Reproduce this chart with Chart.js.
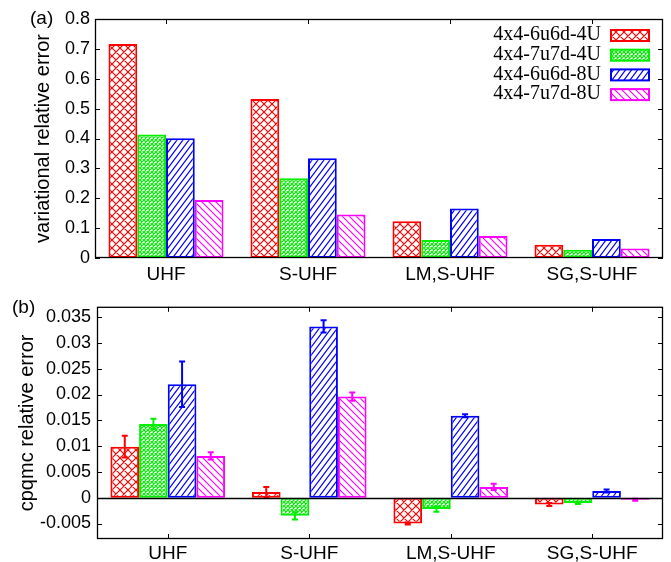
<!DOCTYPE html>
<html>
<head>
<meta charset="utf-8">
<script src="https://cdn.jsdelivr.net/npm/chart.js@4.4.1/dist/chart.umd.min.js"></script>
<style>
  body { margin: 0; background: #fff; width: 671px; height: 562px; position: relative; overflow: hidden; }
  canvas { position: absolute; left: 0; }
  #chartA { top: 0; }
  #chartB { top: 290px; }
</style>
</head>
<body>
<canvas id="chartA" width="671" height="290"></canvas>
<canvas id="chartB" width="671" height="272"></canvas>
<script>
// categories and series
const categories = ["UHF", "S-UHF", "LM,S-UHF", "SG,S-UHF"];
const seriesNames = ["4x4-6u6d-4U", "4x4-7u7d-4U", "4x4-6u6d-8U", "4x4-7u7d-8U"];
const seriesColors = ["#ff0000", "#00f000", "#0000ff", "#ff00ff"];

// (a) variational relative error
const var6u6d4U = [0.716, 0.532, 0.123, 0.044];
const var7u7d4U = [0.413, 0.267, 0.060, 0.028];
const var6u6d8U = [0.401, 0.334, 0.166, 0.064];
const var7u7d8U = [0.194, 0.146, 0.074, 0.032];

// (b) cpqmc relative error and its error bars
const cpq6u6d4U = [0.0099, 0.0011, -0.0050, -0.0013];
const cpq7u7d4U = [0.0143, -0.0035, -0.0022, -0.0010];
const cpq6u6d8U = [0.0220, 0.0332, 0.0159, 0.0013];
const cpq7u7d8U = [0.0081, 0.0196, 0.0021, -0.0004];
const err6u6d4U = [0.0021, 0.0010, 0.0002, 0.0003];
const err7u7d4U = [0.0010, 0.0007, 0.0005, 0.0002];
const err6u6d8U = [0.0044, 0.0012, 0.0003, 0.0003];
const err7u7d8U = [0.0007, 0.0008, 0.0006, 0.0002];

// tick labels
const ticksA = [0, 0.1, 0.2, 0.3, 0.4, 0.5, 0.6, 0.7, 0.8];
const ticksB = [-0.005, 0, 0.005, 0.01, 0.015, 0.02, 0.025, 0.03, 0.035];

Chart.defaults.font.family = "'Liberation Sans', Arial, sans-serif";
Chart.defaults.color = "#000";

// hatch fills like gnuplot patterns
function hatch(color, kind) {
  const sizes = { cross: [8, 8], fine: [4, 4], slash: [6, 8], back: [7, 7] };
  const [w, h] = sizes[kind];
  const c = document.createElement("canvas");
  c.width = w; c.height = h;
  const g = c.getContext("2d");
  g.fillStyle = "#fff";
  g.fillRect(0, 0, w, h);
  g.strokeStyle = color;
  g.lineWidth = 1.2;
  g.beginPath();
  if (kind === "cross" || kind === "fine" || kind === "slash") {
    g.moveTo(-w, 2 * h); g.lineTo(2 * w, -h);
    g.moveTo(-w, h); g.lineTo(w, -h);
    g.moveTo(0, 2 * h); g.lineTo(2 * w, 0);
  }
  if (kind === "cross" || kind === "fine" || kind === "back") {
    g.moveTo(-w, -h); g.lineTo(2 * w, 2 * h);
    g.moveTo(-w, 0); g.lineTo(w, 2 * h);
    g.moveTo(0, -h); g.lineTo(2 * w, h);
  }
  g.stroke();
  return g.createPattern(c, "repeat");
}
const hatchKinds = ["cross", "fine", "slash", "back"];
const fills = seriesColors.map((c, i) => hatch(c, hatchKinds[i]));

function makeSets(values) {
  return values.map((v, i) => ({
    label: seriesNames[i],
    data: v,
    backgroundColor: fills[i],
    borderColor: seriesColors[i],
    borderWidth: 2,
    borderSkipped: false,
    categoryPercentage: 0.81,
    barPercentage: 1.0,
  }));
}

// frame, inward ticks, zero line, error bars, legend, panel tag
const decor = {
  id: "decor",
  beforeDatasetsDraw(chart) {
    const { ctx, chartArea: a, scales } = chart;
    ctx.save();
    ctx.strokeStyle = "#000";
    ctx.lineWidth = 1;
    ctx.beginPath();
    scales.y.ticks.forEach(t => {
      const py = Math.round(scales.y.getPixelForValue(t.value)) + 0.5;
      ctx.moveTo(a.left, py); ctx.lineTo(a.left + 5, py);
      ctx.moveTo(a.right, py); ctx.lineTo(a.right - 5, py);
    });
    categories.forEach((c, i) => {
      const px = Math.round(scales.x.getPixelForValue(i)) + 0.5;
      ctx.moveTo(px, a.top); ctx.lineTo(px, a.top + 5);
      ctx.moveTo(px, a.bottom); ctx.lineTo(px, a.bottom - 5);
    });
    ctx.stroke();
    ctx.restore();
  },
  afterDatasetsDraw(chart, args, opts) {
    const { ctx, chartArea: a, scales } = chart;
    ctx.save();
    if (opts.errors) {
      chart.data.datasets.forEach((ds, di) => {
        const meta = chart.getDatasetMeta(di);
        ctx.strokeStyle = ds.borderColor;
        ctx.lineWidth = 2;
        ctx.beginPath();
        meta.data.forEach((bar, i) => {
          const v = ds.data[i], e = opts.errors[di][i];
          const y1 = scales.y.getPixelForValue(v + e);
          const y2 = scales.y.getPixelForValue(v - e);
          ctx.moveTo(bar.x, y1); ctx.lineTo(bar.x, y2);
          ctx.moveTo(bar.x - 3, y1); ctx.lineTo(bar.x + 3, y1);
          ctx.moveTo(bar.x - 3, y2); ctx.lineTo(bar.x + 3, y2);
        });
        ctx.stroke();
      });
    }
    if (opts.zeroLine) {
      const y0 = Math.round(scales.y.getPixelForValue(0)) + 0.5;
      ctx.strokeStyle = "#000";
      ctx.lineWidth = 1.3;
      ctx.beginPath();
      ctx.moveTo(a.left, y0); ctx.lineTo(a.right, y0);
      ctx.stroke();
    }
    ctx.strokeStyle = "#000";
    ctx.lineWidth = 1.3;
    ctx.strokeRect(a.left + 0.5, a.top + 0.5, a.right - a.left - 1, a.bottom - a.top - 1);
    ctx.restore();
  },
  afterDraw(chart, args, opts) {
    const { ctx } = chart;
    ctx.save();
    ctx.fillStyle = "#000";
    ctx.textBaseline = "middle";
    ctx.textAlign = "left";
    ctx.font = "19px 'Liberation Sans', Arial, sans-serif";
    ctx.fillText(opts.tag[0], opts.tag[1], opts.tag[2]);
    if (opts.legend) {
      const [tx, sx, y0, dy] = opts.legend;
      ctx.font = "20px 'Liberation Serif', 'Times New Roman', serif";
      ctx.textAlign = "right";
      chart.data.datasets.forEach((ds, i) => {
        const y = y0 + i * dy;
        ctx.fillStyle = "#000";
        ctx.fillText(ds.label, tx, y);
        ctx.fillStyle = ds.backgroundColor;
        ctx.fillRect(sx, y - 5, 38, 11);
        ctx.strokeStyle = ds.borderColor;
        ctx.lineWidth = 2;
        ctx.strokeRect(sx, y - 5, 38, 11);
      });
    }
    ctx.restore();
  },
};

function makeOptions(cfg) {
  return {
    responsive: false,
    animation: false,
    layout: { padding: { top: cfg.top, right: 8, left: 0, bottom: 0 } },
    plugins: {
      legend: { display: false },
      tooltip: { enabled: false },
      decor: cfg.decor,
    },
    scales: {
      x: {
        grid: { display: false, drawTicks: false },
        border: { display: false },
        ticks: { font: { size: 19 }, padding: cfg.xPad, maxRotation: 0 },
        afterFit: s => { s.height = cfg.xHeight; },
      },
      y: {
        min: cfg.min,
        max: cfg.max,
        grid: { display: false, drawTicks: false },
        border: { display: false },
        ticks: { font: { size: 18 }, padding: cfg.yPad, callback: v => String(v) },
        afterBuildTicks: s => { s.ticks = cfg.ticks.map(v => ({ value: v })); },
        afterFit: s => { s.width = cfg.yWidth; },
        title: { display: true, text: cfg.title, font: { size: 20 }, padding: { top: cfg.titlePad, bottom: 0 } },
      },
    },
  };
}

new Chart(document.getElementById("chartA").getContext("2d"), {
  type: "bar",
  data: {
    labels: categories,
    datasets: makeSets([var6u6d4U, var7u7d4U, var6u6d8U, var7u7d8U]),
  },
  options: makeOptions({
    top: 19, xHeight: 32, xPad: 5, yWidth: 95, yPad: 5, titlePad: 31,
    min: 0, max: 0.8, ticks: ticksA, title: "variational relative error",
    decor: { tag: ["(a)", 30, 19], legend: [601, 611, 35, 19.7] },
  }),
  plugins: [decor],
});

new Chart(document.getElementById("chartB").getContext("2d"), {
  type: "bar",
  data: {
    labels: categories,
    datasets: makeSets([cpq6u6d4U, cpq7u7d4U, cpq6u6d8U, cpq7u7d8U]),
  },
  options: makeOptions({
    top: 11, xHeight: 23, xPad: 3, yWidth: 97, yPad: 6, titlePad: 15,
    min: -0.008, max: 0.037, ticks: ticksB, title: "cpqmc relative error",
    decor: { tag: ["(b)", 12, 18], errors: [err6u6d4U, err7u7d4U, err6u6d8U, err7u7d8U], zeroLine: true },
  }),
  plugins: [decor],
});
</script>
</body>
</html>
